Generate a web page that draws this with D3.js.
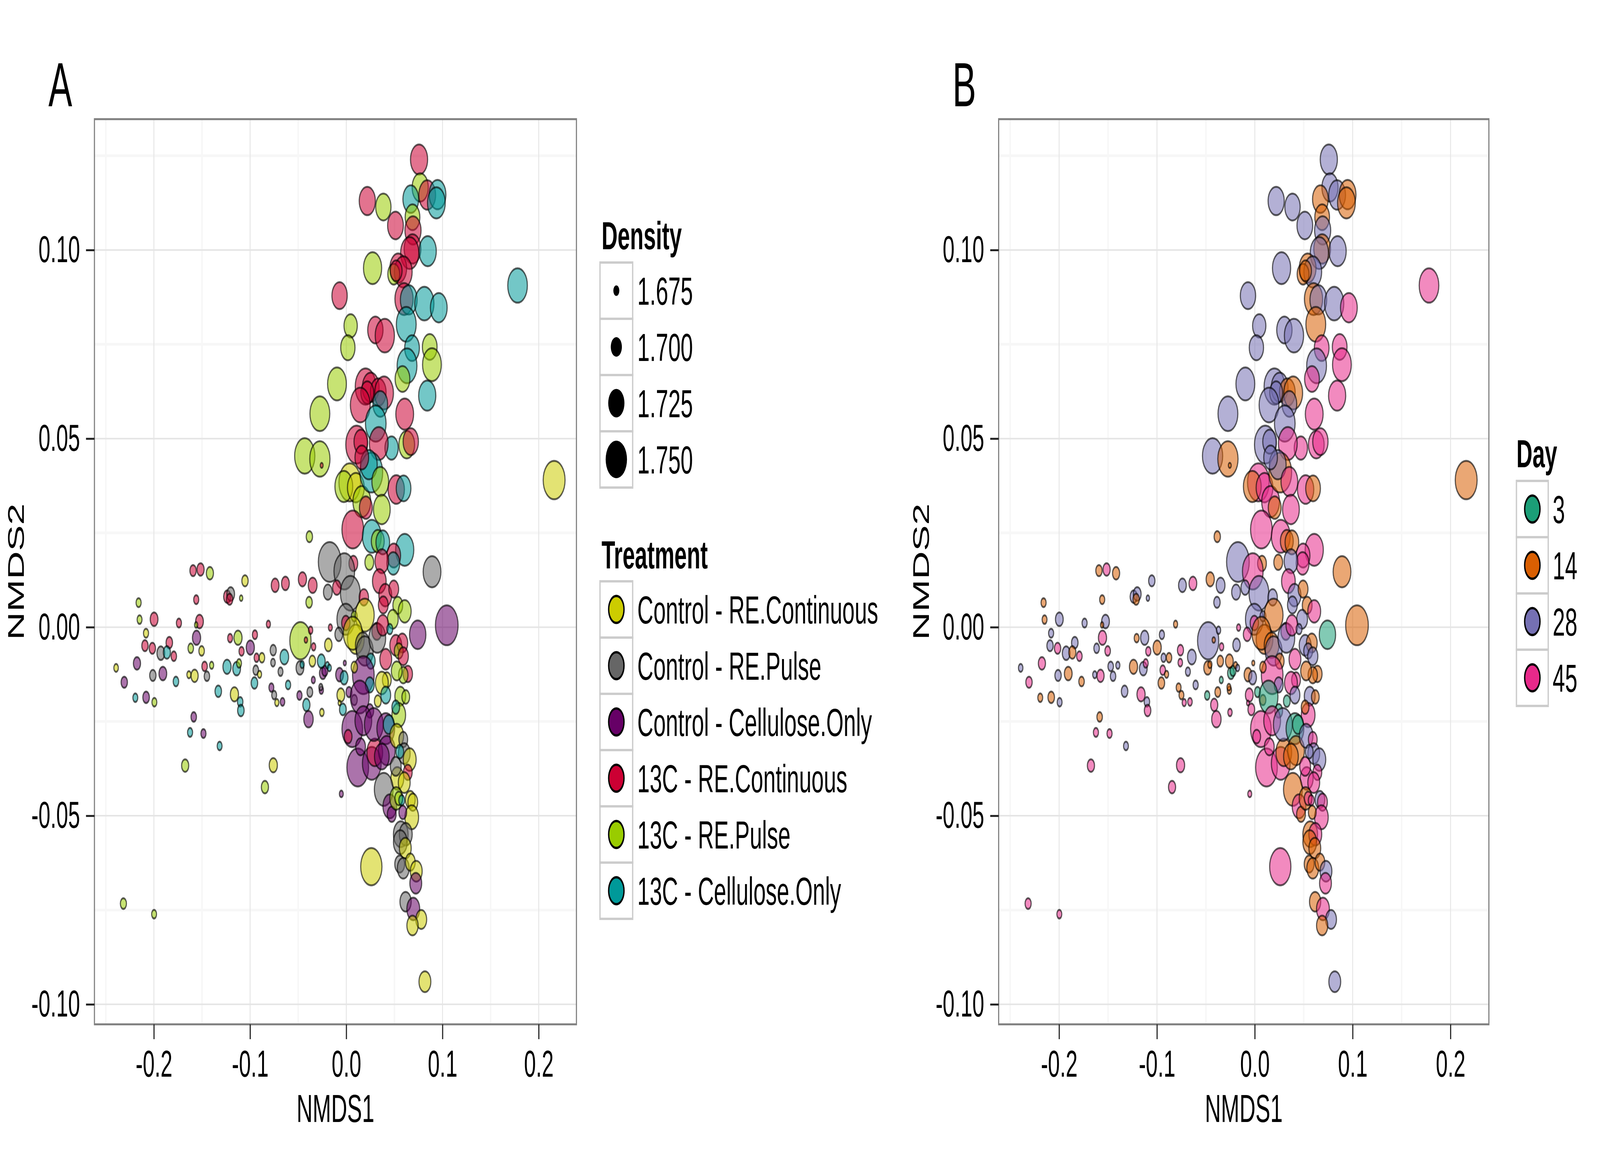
<!DOCTYPE html>
<html><head><meta charset="utf-8">
<script src="https://cdn.jsdelivr.net/npm/d3@7"></script>
<style>
html,body{margin:0;padding:0;width:100%;height:100%;overflow:hidden;background:#fff}
svg{display:block;width:100vw;height:100vh}
text{font-family:"Liberation Sans",Arial,Helvetica,sans-serif}
</style>
</head><body>
<svg id="chart" viewBox="0 0 7200 3000" preserveAspectRatio="none"></svg>
<script>
// ---------------- DATA ----------------
const treatmentLabels = ["Control - RE.Continuous","Control - RE.Pulse","Control - Cellulose.Only",
  "13C - RE.Continuous","13C - RE.Pulse","13C - Cellulose.Only"];
const treatmentColors = ["#CCCC00","#666666","#660066","#CC0033","#99CC00","#009999"];
const dayValues = [3,14,28,45];
const dayLabels = ["3","14","28","45"];
const dayColors = ["#1B9E77","#D95F02","#7570B3","#E7298A"];
const densityBreaks = [1.675,1.700,1.725,1.750];
const densityLabels = ["1.675","1.700","1.725","1.750"];
const xTicks = [-0.2,-0.1,0,0.1,0.2];
const xTickLabels = ["-0.2","-0.1","0.0","0.1","0.2"];
const yTicks = [-0.1,-0.05,0,0.05,0.1];
const yTickLabels = ["-0.10","-0.05","0.00","0.05","0.10"];
const xMinorTicks = [-0.25,-0.15,-0.05,0.05,0.15];
const yMinorTicks = [-0.075,-0.025,0.025,0.075,0.125];

const nmds1 = [
// left cloud
-0.1593,-0.1515,-0.1418,-0.1053,-0.0740,-0.0633,-0.0456,-0.1238,-0.1202,-0.1213,
-0.1093,-0.1560,-0.2159,-0.2149,-0.1998,-0.1740,-0.1526,-0.1561,-0.0810,-0.2082,
-0.1557,-0.1208,-0.1126,-0.0950,-0.0998,-0.0477,-0.0420,-0.2093,-0.2016,-0.1840,
-0.1928,-0.1865,-0.1793,-0.1617,-0.1504,-0.1089,-0.0933,-0.0877,-0.0760,-0.0762,
-0.0644,-0.2393,-0.2176,-0.2308,-0.2011,-0.1907,-0.1771,-0.1636,-0.1577,-0.1473,
-0.1400,-0.1449,-0.1240,-0.1140,-0.1115,-0.0941,-0.0902,-0.0955,-0.0684,-0.0605,
-0.0482,-0.0459,-0.2193,-0.2081,-0.1995,-0.1331,-0.1163,-0.1103,-0.1096,-0.0779,
-0.0750,-0.0722,-0.0663,-0.0487,-0.0415,-0.0393,-0.1586,-0.1624,-0.1485,-0.1317,
-0.1675,-0.0759,-0.0846,-0.2317,-0.1998,
// column top
0.0756,0.0768,0.0841,0.0670,0.0948,0.0936,0.0218,0.0385,0.0511,0.0688,
0.0693,0.0688,0.0659,0.0846,0.0540,0.0592,0.0493,0.0518,0.0273,-0.0070,
0.0600,0.0649,0.0811,0.0961,0.0623,0.0045,0.0016,0.0302,0.0400,0.0683,
0.0867,0.0890,0.0631,0.0584,0.0841,-0.0097,-0.0275,0.0607,0.0200,0.0254,
0.0332,0.0392,0.0218,0.0145,0.0353,0.0306,
// column middle
0.0628,0.0670,0.0470,0.0337,0.0107,0.0151,-0.0432,-0.0275,-0.0256,0.0036,
-0.0026,0.0099,0.0161,0.0203,0.0260,0.0234,0.0353,0.0369,0.0161,0.0519,
0.0595,0.0067,0.0265,0.0327,0.0379,0.0607,0.0493,0.0488,0.0369,0.0239,
0.0073,-0.0173,-0.0021,0.0042,-0.0192,-0.0099,-0.0350,-0.0384,-0.0387,0.0891,
0.1044,0.0742,0.0343,0.0405,0.0493,0.0384,0.0535,0.0607,0.0483,0.0182,
-0.0005,-0.0005,0.0083,0.0192,-0.0078,-0.0166,-0.0371,-0.0340,-0.0187,0.0099,
0.0067,0.0171,0.0192,0.0317,0.0322,0.0379,0.0452,0.0254,0.0410,0.0514,
0.0582,0.0545,0.0592,0.0639,0.0592,0.0524,0.0421,0.0369,0.0410,0.0561,
0.0618,0.0545,0.0514,0.0327,0.0177,0.0244,0.0244,0.0083,-0.0070,-0.0023,
-0.0016,0.0028,-0.0057,-0.0070,-0.0036,0.0083,0.0140,0.0062,0.0177,-0.0254,
-0.0379,-0.0260,-0.0265,-0.0343,-0.0244,-0.0223,-0.0260,-0.0197,-0.0176,-0.0353,
// column bottom
0.0019,0.0119,0.0148,0.0265,0.0296,0.0286,0.0410,0.0421,0.0369,0.0441,
0.0524,0.0592,0.0602,0.0659,0.0639,0.0530,0.0602,0.0389,0.0452,0.0472,
0.0519,0.0545,0.0576,0.0665,0.0691,0.0680,0.0587,0.0566,0.0618,0.0561,
0.0613,0.0555,0.0592,0.0665,0.0727,0.0722,0.0260,0.0616,0.0696,0.0779,
0.0688,0.0817,-0.0052,0.0514,0.0556,
// outliers
0.1780,0.2160
];

const nmds2 = [
0.0150,0.0153,0.0143,0.0123,0.0111,0.0116,0.0127,0.0081,0.0088,0.0074,
0.0077,0.0073,0.0065,0.0020,0.0021,0.0011,0.0015,0.0006,0.0008,-0.0016,
-0.0028,-0.0029,-0.0028,-0.0020,-0.0054,-0.0036,-0.0034,-0.0049,-0.0056,-0.0041,
-0.0069,-0.0067,-0.0077,-0.0056,-0.0063,-0.0064,-0.0081,-0.0081,-0.0061,-0.0094,
-0.0079,-0.0108,-0.0096,-0.0146,-0.0128,-0.0123,-0.0144,-0.0126,-0.0129,-0.0104,
-0.0101,-0.0130,-0.0105,-0.0110,-0.0096,-0.0114,-0.0125,-0.0148,-0.0118,-0.0153,
-0.0108,-0.0099,-0.0187,-0.0186,-0.0199,-0.0170,-0.0178,-0.0198,-0.0221,-0.0160,
-0.0180,-0.0200,-0.0198,-0.0181,-0.0206,-0.0244,-0.0238,-0.0279,-0.0282,-0.0315,
-0.0367,-0.0366,-0.0424,-0.0733,-0.0761,
0.1240,0.1166,0.1146,0.1135,0.1147,0.1125,0.1130,0.1114,0.1065,0.1087,
0.1052,0.1003,0.0992,0.0997,0.0952,0.0942,0.0936,0.0945,0.0952,0.0879,
0.0870,0.0868,0.0858,0.0847,0.0803,0.0799,0.0741,0.0788,0.0773,0.0740,
0.0743,0.0696,0.0693,0.0658,0.0614,0.0645,0.0566,0.0565,0.0638,0.0636,
0.0623,0.0621,0.0622,0.0589,0.0592,0.0540,
0.0484,0.0492,0.0475,0.0487,0.0484,0.0492,0.0454,0.0446,0.0429,0.0384,
0.0373,0.0370,0.0333,0.0317,0.0410,0.0431,0.0386,0.0312,0.0450,0.0365,
0.0368,0.0259,0.0241,0.0228,0.0225,0.0205,0.0190,0.0169,0.0175,0.0172,
0.0169,0.0173,0.0148,0.0090,0.0093,0.0105,0.0111,0.0240,0.0066,0.0147,
0.0005,-0.0020,0.0122,0.0085,0.0101,0.0059,0.0058,0.0042,0.0021,0.0079,
0.0021,0.0011,0.0029,0.0032,-0.0019,-0.0001,-0.0008,-0.0052,-0.0047,-0.0032,
-0.0016,-0.0048,-0.0063,-0.0011,-0.0029,0.0005,-0.0005,-0.0090,-0.0085,-0.0048,
-0.0042,-0.0063,-0.0077,-0.0124,-0.0127,-0.0116,-0.0140,-0.0148,-0.0180,-0.0183,
-0.0185,-0.0233,-0.0212,-0.0196,-0.0127,-0.0153,-0.0222,-0.0106,-0.0126,-0.0134,
-0.0095,-0.0172,-0.0180,-0.0201,-0.0218,-0.0193,-0.0185,-0.0270,-0.0248,-0.0226,
-0.0172,-0.0167,-0.0159,-0.0140,-0.0122,-0.0116,-0.0090,-0.0101,-0.0108,-0.0090,
-0.0290,-0.0372,-0.0317,-0.0361,-0.0332,-0.0258,-0.0269,-0.0327,-0.0343,-0.0258,
-0.0288,-0.0298,-0.0335,-0.0351,-0.0385,-0.0401,-0.0412,-0.0430,-0.0475,-0.0496,
-0.0454,-0.0454,-0.0459,-0.0457,-0.0464,-0.0504,-0.0491,-0.0549,-0.0549,-0.0570,
-0.0586,-0.0628,-0.0639,-0.0623,-0.0647,-0.0679,-0.0635,-0.0728,-0.0747,-0.0775,
-0.0791,-0.0940,-0.0442,-0.0369,-0.0330,
0.0906,0.0390
];

const density = [
1.682,1.686,1.686,1.682,1.689,1.689,1.691,1.686,1.689,1.682,
1.667,1.676,1.676,1.675,1.689,1.676,1.689,1.667,1.671,1.676,
1.691,1.675,1.691,1.676,1.691,1.755,1.667,1.682,1.682,1.683,
1.689,1.686,1.678,1.678,1.678,1.676,1.675,1.678,1.681,1.673,
1.693,1.673,1.686,1.682,1.682,1.689,1.678,1.671,1.686,1.678,
1.671,1.678,1.691,1.689,1.675,1.678,1.671,1.683,1.675,1.676,
1.689,1.671,1.675,1.683,1.675,1.683,1.691,1.678,1.683,1.675,
1.675,1.671,1.673,1.676,1.686,1.697,1.678,1.676,1.676,1.675,
1.686,1.691,1.686,1.681,1.675,
1.735,1.730,1.733,1.728,1.733,1.738,1.730,1.726,1.728,1.723,
1.730,1.733,1.740,1.735,1.733,1.738,1.709,1.709,1.740,1.726,
1.740,1.733,1.745,1.733,1.748,1.716,1.721,1.726,1.745,1.723,
1.723,1.743,1.748,1.723,1.735,1.743,1.748,1.738,1.752,1.733,
1.728,1.743,1.714,1.748,1.723,1.752,
1.728,1.726,1.716,1.743,1.757,1.718,1.750,1.750,1.665,1.757,
1.738,1.733,1.738,1.714,1.762,1.733,1.733,1.733,1.718,1.731,
1.723,1.757,1.743,1.714,1.718,1.740,1.718,1.714,1.718,1.694,
1.694,1.762,1.752,1.748,1.694,1.692,1.694,1.682,1.682,1.738,
1.762,1.731,1.718,1.714,1.699,1.699,1.699,1.714,1.704,1.697,
1.738,1.692,1.680,1.743,1.689,1.670,1.672,1.672,1.687,1.733,
1.743,1.723,1.733,1.699,1.733,1.709,1.680,1.694,1.709,1.709,
1.704,1.694,1.701,1.697,1.697,1.704,1.694,1.714,1.699,1.704,
1.689,1.718,1.689,1.684,1.757,1.694,1.689,1.682,1.689,1.689,
1.665,1.680,1.689,1.665,1.684,1.680,1.743,1.752,1.733,1.672,
1.679,1.672,1.670,1.670,1.684,1.680,1.689,1.670,1.670,1.682,
1.689,1.757,1.699,1.743,1.728,1.743,1.738,1.733,1.723,1.704,
1.718,1.694,1.709,1.714,1.694,1.714,1.709,1.743,1.718,1.694,
1.714,1.689,1.680,1.699,1.699,1.718,1.689,1.723,1.714,1.718,
1.709,1.699,1.709,1.699,1.709,1.709,1.755,1.706,1.714,1.704,
1.706,1.709,1.670,1.704,1.689,
1.747,1.758
];

// index into treatmentLabels
const treatment = [
3,3,4,0,3,3,3,3,1,3,
4,3,4,4,3,3,3,4,3,0,
2,3,4,3,2,4,3,3,3,3,
1,5,3,4,0,3,3,0,1,1,
5,0,2,2,1,2,5,0,0,3,
4,1,5,5,4,1,0,5,1,5,
1,5,5,2,4,5,0,5,5,2,
1,0,2,2,5,2,2,5,2,5,
4,0,4,4,4,
3,4,3,5,5,5,3,4,3,4,
3,3,3,5,3,3,4,3,4,3,
3,5,5,5,5,4,4,3,3,5,
4,4,5,4,5,4,4,3,3,3,
3,3,3,3,5,5,
4,3,5,3,3,3,4,4,3,0,
4,0,4,3,5,5,4,4,3,3,
5,3,5,4,5,5,3,5,3,4,
3,1,1,1,1,3,3,4,4,1,
2,2,3,3,3,3,4,4,4,3,
1,3,4,0,1,3,3,3,0,0,
0,1,1,3,1,3,5,5,3,3,
3,4,3,3,4,4,0,0,5,4,
4,4,5,0,2,5,2,0,2,5,
2,2,0,0,5,1,2,2,2,0,
1,2,1,2,2,2,5,5,5,0,
3,2,2,2,3,2,2,2,2,5,
0,1,1,0,3,0,0,1,2,2,
4,4,5,0,0,0,2,1,1,1,
0,1,1,0,0,2,0,1,2,0,
0,0,2,1,5,
5,0
];

const day = [
14,45,14,28,28,45,14,28,28,14,
28,14,14,14,28,28,28,14,14,28,
45,14,28,28,14,28,14,28,45,28,
28,14,45,28,45,45,28,14,45,45,
28,28,45,45,28,14,14,28,45,28,
28,28,14,28,45,45,14,14,28,28,
14,14,14,14,28,28,45,28,45,14,
14,45,45,3,45,45,14,45,45,28,
45,45,45,45,45,
28,28,28,14,14,14,28,28,28,14,
28,14,28,28,14,28,14,14,28,28,
14,28,28,45,14,28,28,28,28,45,
45,45,28,45,45,28,28,45,28,28,
14,14,28,28,28,28,
45,45,45,45,28,28,28,14,14,45,
14,45,45,14,14,28,45,45,28,45,
14,45,45,14,14,45,45,45,28,14,
14,28,45,28,28,28,28,14,28,14,
14,3,45,28,14,28,14,45,28,28,
28,45,28,14,45,45,28,45,28,14,
14,14,28,45,28,45,28,14,45,28,
14,28,28,14,14,14,45,45,28,28,
14,45,14,3,45,28,3,14,14,28,
14,3,45,45,45,14,3,45,45,45,
14,14,14,3,3,3,14,14,28,14,
45,45,45,45,14,28,3,14,14,3,
28,45,28,28,45,45,45,14,45,14,
14,45,45,28,45,45,14,14,45,14,
14,14,14,14,28,45,45,14,45,28,
14,28,45,45,28,
45,14
];

// ---------------- LAYOUT ----------------
const svg = d3.select("#chart");
svg.append("rect").attr("width",7200).attr("height",3000).attr("fill","#fff");

const TOP = 305, BOTTOM = 2622;
const xDomain = [-0.2618, 0.2392];
const yDomain = [-0.1053, 0.1347];
const rScale = d3.scaleLinear().domain([1.675, 1.75]).range([11, 45.5]);
const dayColor = d3.scaleOrdinal().domain(dayValues).range(dayColors);
const treatColor = d3.scaleOrdinal().domain(d3.range(treatmentLabels.length)).range(treatmentColors);

const points = nmds1.map((x,i)=>({x, y:nmds2[i], v:density[i], t:treatment[i], d:day[i]}));

function drawPanel(left, right, fillFn, letter, letterX, yTitleX){
  const x = d3.scaleLinear().domain(xDomain).range([left, right]);
  const y = d3.scaleLinear().domain(yDomain).range([BOTTOM, TOP]);
  const g = svg.append("g");
  g.append("rect").attr("x",left).attr("y",TOP).attr("width",right-left).attr("height",BOTTOM-TOP).attr("fill","#fff");
  g.selectAll(".vmin").data(xMinorTicks).join("line")
    .attr("x1",d=>x(d)).attr("x2",d=>x(d)).attr("y1",TOP).attr("y2",BOTTOM)
    .attr("stroke","#f7f7f7").attr("stroke-width",7);
  g.selectAll(".hmin").data(yMinorTicks).join("line")
    .attr("y1",d=>y(d)).attr("y2",d=>y(d)).attr("x1",left).attr("x2",right)
    .attr("stroke","#f7f7f7").attr("stroke-width",7);
  g.selectAll(".vmaj").data(xTicks).join("line")
    .attr("x1",d=>x(d)).attr("x2",d=>x(d)).attr("y1",TOP).attr("y2",BOTTOM)
    .attr("stroke","#e5e5e5").attr("stroke-width",4);
  g.selectAll(".hmaj").data(yTicks).join("line")
    .attr("y1",d=>y(d)).attr("y2",d=>y(d)).attr("x1",left).attr("x2",right)
    .attr("stroke","#e5e5e5").attr("stroke-width",4);
  g.append("g").selectAll("circle").data(points).join("circle")
    .attr("cx",d=>x(d.x)).attr("cy",d=>y(d.y)).attr("r",d=>rScale(d.v))
    .attr("fill",fillFn).attr("fill-opacity",0.55)
    .attr("stroke","#000").attr("stroke-opacity",0.62).attr("stroke-width",5);
  g.append("rect").attr("x",left).attr("y",TOP).attr("width",right-left).attr("height",BOTTOM-TOP)
    .attr("fill","none").attr("stroke","#7f7f7f").attr("stroke-width",5);
  const ax = g.append("g").attr("transform",`translate(0,${BOTTOM})`)
    .call(d3.axisBottom(x).tickValues(xTicks).tickFormat((d,i)=>xTickLabels[i]).tickSize(38).tickPadding(28));
  const ay = g.append("g").attr("transform",`translate(${left},0)`)
    .call(d3.axisLeft(y).tickValues(yTicks).tickFormat((d,i)=>yTickLabels[i]).tickSize(38).tickPadding(27));
  [ax,ay].forEach(a=>{
    a.select(".domain").remove();
    a.selectAll(".tick line").attr("stroke","#222").attr("stroke-width",5);
    a.selectAll(".tick text").attr("font-size",96).attr("fill","#000")
      .attr("font-family","'Liberation Sans',Arial,sans-serif");
  });
  g.append("text").attr("x",(left+right)/2).attr("y",2872).attr("text-anchor","middle")
    .attr("font-size",100).text("NMDS1");
  g.append("text").attr("transform",`translate(${yTitleX},${(TOP+BOTTOM)/2}) rotate(-90)`)
    .attr("text-anchor","middle").attr("font-size",100).text("NMDS2");
  g.append("text").attr("x",letterX).attr("y",272).attr("font-size",160).text(letter);
}

drawPanel(425, 2594, d=>treatColor(d.t), "A", 218, 107);
drawPanel(4494, 6700, d=>dayColor(d.d), "B", 4286, 4180);

// ---------------- LEGENDS ----------------
const KEY = 144;
function legendTitle(x, yBase, txt){
  svg.append("text").attr("x",x).attr("y",yBase).attr("font-size",100).attr("font-weight","bold").text(txt);
}
function keyBoxes(x, y0, w, n){
  svg.append("g").selectAll("rect").data(d3.range(n)).join("rect")
    .attr("x",x).attr("y",i=>y0+i*KEY).attr("width",w).attr("height",KEY)
    .attr("fill","#fff").attr("stroke","#cccccc").attr("stroke-width",6);
}
function keyLabels(x, y0, labels){
  svg.append("g").selectAll("text").data(labels).join("text")
    .attr("x",x).attr("y",(d,i)=>y0+i*KEY+KEY/2).attr("dy","0.36em")
    .attr("font-size",100).text(d=>d);
}

legendTitle(2707, 638, "Density");
keyBoxes(2700, 672, 147, densityBreaks.length);
svg.append("g").selectAll("circle").data(densityBreaks).join("circle")
  .attr("cx",2773.5).attr("cy",(d,i)=>672+i*KEY+KEY/2).attr("r",d=>rScale(d)+2.5).attr("fill","#000");
keyLabels(2868, 672, densityLabels);

legendTitle(2707, 1455, "Treatment");
keyBoxes(2700, 1488, 147, treatmentLabels.length);
svg.append("g").selectAll("circle").data(treatmentLabels).join("circle")
  .attr("cx",2773.5).attr("cy",(d,i)=>1488+i*KEY+KEY/2).attr("r",34.5)
  .attr("fill",(d,i)=>treatColor(i)).attr("stroke","#000").attr("stroke-width",6);
keyLabels(2868, 1488, treatmentLabels);

legendTitle(6824, 1196, "Day");
keyBoxes(6824, 1231, 143, dayValues.length);
svg.append("g").selectAll("circle").data(dayValues).join("circle")
  .attr("cx",6895.5).attr("cy",(d,i)=>1231+i*KEY+KEY/2).attr("r",34.5)
  .attr("fill",d=>dayColor(d)).attr("stroke","#000").attr("stroke-width",6);
keyLabels(6987, 1231, dayLabels);
</script>
</body></html>
